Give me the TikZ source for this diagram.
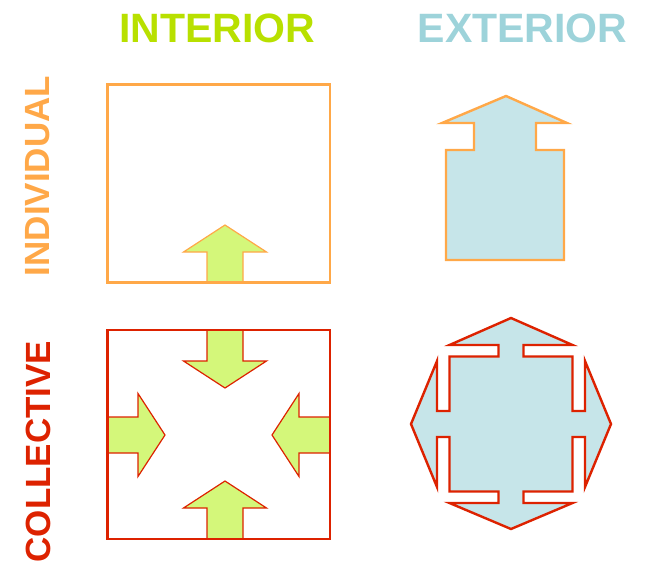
\documentclass[tikz,border=0pt]{standalone}
\usepackage{fontspec}
\setmainfont{Liberation Sans}
\definecolor{intgreen}{HTML}{B8E000}
\definecolor{extblue}{HTML}{9DD3DA}
\definecolor{indorange}{HTML}{FFA848}
\definecolor{colred}{HTML}{DD2200}
\definecolor{limefill}{HTML}{D4F77A}
\definecolor{bluefill}{HTML}{C6E5E9}
\tikzset{
  inarrow/.pic={
    \filldraw[fill=limefill, line width=1.2pt, line join=miter]
      (-18,0) -- (-18,-31) -- (-41.5,-31) -- (0,-58) -- (41.5,-31) -- (18,-31) -- (18,0) -- cycle;
  }
}
\begin{document}
\begin{tikzpicture}[x=1pt, y=-1pt,
    head/.style={font=\bfseries\fontsize{41}{41}\selectfont, inner sep=0pt},
    side/.style={font=\bfseries\fontsize{35}{35}\selectfont, inner sep=0pt, rotate=90},
    frame/.style={line width=2.8pt}]
    \useasboundingbox (0,0) rectangle (645,571);

    % Column and row titles
    \node[head, text=intgreen] (interior) at (217.5,28.5) {INTERIOR};
    \node[head, text=extblue] (exterior) at (522.5,28.5) {EXTERIOR};
    \node[side, text=indorange] (individual) at (38,176) {INDIVIDUAL};
    \node[side, text=colred] (collective) at (38,451.5) {COLLECTIVE};

    % Individual interior: box with one arrow going in
    \pic[draw=indorange] at (225,283) {inarrow};
    \draw[frame, indorange] (107.5,84.5) rectangle (330,282.5);

    % Individual exterior: arrow going out
    \filldraw[fill=bluefill, draw=indorange, line width=2.4pt]
      (446,260) -- (446,150) -- (474,150) -- (474,123) -- (442,123) -- (506,96)
      -- (567,123) -- (536,123) -- (536,150) -- (564,150) -- (564,260) -- cycle;

    % Collective interior: four arrows pointing to the middle
    \pic[draw=colred, rotate=180] at (225,330) {inarrow};
    \pic[draw=colred] at (225,539) {inarrow};
    \pic[draw=colred, rotate=-90] at (107,435) {inarrow};
    \pic[draw=colred, rotate=90] at (330,435) {inarrow};
    \draw[frame, colred] (107.5,330) rectangle (330,539);

    % Collective exterior: four arrows pointing outwards
    \filldraw[fill=bluefill, draw=colred, line width=2.4pt]
      (511,318) -- (572.5,345) -- (523.5,345) -- (523.5,356.5) -- (572.5,356.5)
      -- (572.5,411) -- (585,411) -- (585,361) -- (611,424) -- (585,487)
      -- (585,437) -- (572.5,437) -- (572.5,491.5) -- (523.5,491.5)
      -- (523.5,503) -- (572.5,503) -- (511,529) -- (449.5,503) -- (498.5,503)
      -- (498.5,491.5) -- (449.5,491.5) -- (449.5,437) -- (437,437) -- (437,487)
      -- (411,424) -- (437,361) -- (437,411) -- (449.5,411) -- (449.5,356.5)
      -- (498.5,356.5) -- (498.5,345) -- (449.5,345) -- cycle;
\end{tikzpicture}
\end{document}
